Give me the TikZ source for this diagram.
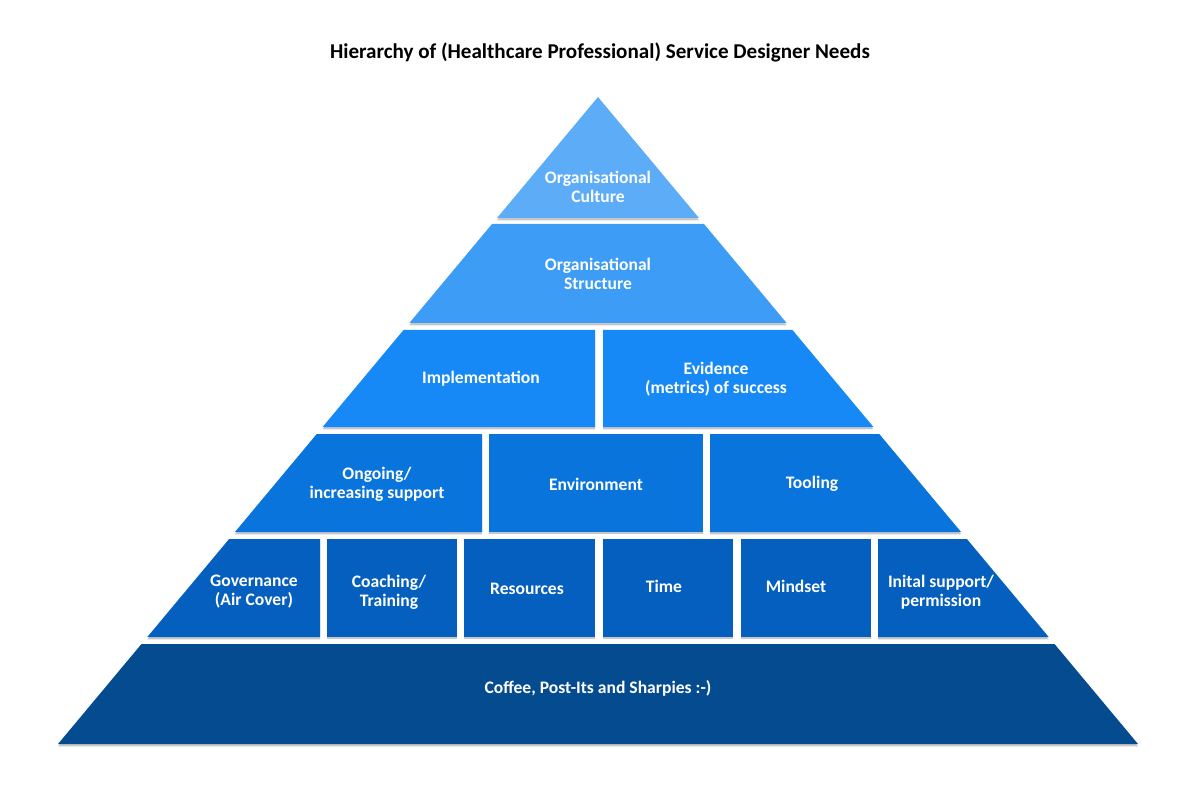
\documentclass[tikz,border=0pt]{standalone}
\usepackage{fontspec}
\setmainfont{Carlito}
\usetikzlibrary{shadows}
\definecolor{lvlA}{HTML}{5CACF7}
\definecolor{lvlB}{HTML}{3D9CF5}
\definecolor{lvlC}{HTML}{1689F6}
\definecolor{lvlD}{HTML}{0A74DD}
\definecolor{lvlE}{HTML}{055FBE}
\definecolor{lvlF}{HTML}{044B90}
% pyramid sides: x at height y (pixels, y down)
\newcommand{\lx}[1]{598-0.8346*(#1-97)}
\newcommand{\rx}[1]{598+0.8346*(#1-97)}
\begin{document}
\begin{tikzpicture}[x=0.02cm, y=-0.02cm]
  \tikzstyle{blk}=[drop shadow={shadow xshift=0pt,shadow yshift=-1.3pt,opacity=0.22,fill=black}]
  \tikzstyle{lbl}=[text=white,font=\bfseries\fontsize{10}{10.8}\selectfont,align=center]
  \useasboundingbox (0,0) rectangle (1200,800);
  \node[font=\bfseries\fontsize{12}{14}\selectfont] (title) at (600,52) {Hierarchy of (Healthcare Professional) Service Designer Needs};
  % culture + structure
  \fill[blk,fill=lvlA] (598,97) -- ({\rx{218}},218) -- ({\lx{218}},218) -- cycle;
  \fill[blk,fill=lvlB] ({\lx{224}},224) -- ({\rx{224}},224) -- ({\rx{323}},323) -- ({\lx{323}},323) -- cycle;
  % implementation row
  \fill[blk,fill=lvlC] ({\lx{330}},330) -- (595,330) -- (595,427) -- ({\lx{427}},427) -- cycle;
  \fill[blk,fill=lvlC] (603,330) -- ({\rx{330}},330) -- ({\rx{427}},427) -- (603,427) -- cycle;
  % support row
  \fill[blk,fill=lvlD] ({\lx{434}},434) -- (482,434) -- (482,532) -- ({\lx{532}},532) -- cycle;
  \fill[blk,fill=lvlD] (489,434) rectangle (703,532);
  \fill[blk,fill=lvlD] (710,434) -- ({\rx{434}},434) -- ({\rx{532}},532) -- (710,532) -- cycle;
  % basics row
  \fill[blk,fill=lvlE] ({\lx{539}},539) -- (320,539) -- (320,637) -- ({\lx{637}},637) -- cycle;
  \foreach \a/\b in {327/457,464/595,603/733,741/871}
    \fill[blk,fill=lvlE] (\a,539) rectangle (\b,637);
  \fill[blk,fill=lvlE] (878,539) -- ({\rx{539}},539) -- ({\rx{637}},637) -- (878,637) -- cycle;
  % base
  \fill[blk,fill=lvlF] ({\lx{644}},644) -- ({\rx{644}},644) -- ({\rx{744}},744) -- ({\lx{744}},744) -- cycle;
  % labels
  \node[lbl] (culture) at (598,187) {Organisational\\Culture};
  \node[lbl] (structure) at (598,274) {Organisational\\Structure};
  \node[lbl] (implement) at (481,379) {Implementation};
  \node[lbl] (evidence) at (716,379) {Evidence\\(metrics) of success};
  \node[lbl] (ongoing) at (377,484) {Ongoing/\\increasing support};
  \node[lbl] (environ) at (596,484) {Environment};
  \node[lbl] (tooling) at (812,484) {Tooling};
  \node[lbl] (govern) at (254,592) {Governance\\(Air Cover)};
  \node[lbl] (coach) at (389,592) {Coaching/\\Training};
  \node[lbl] (resource) at (527,589) {Resources};
  \node[lbl] (time) at (664,586) {Time};
  \node[lbl] (mindset) at (796,586) {Mindset};
  \node[lbl] (initial) at (941,592) {Inital support/\\permission};
  \node[lbl] (coffee) at (598,688) {Coffee, Post-Its and Sharpies :-)};
\end{tikzpicture}
\end{document}
